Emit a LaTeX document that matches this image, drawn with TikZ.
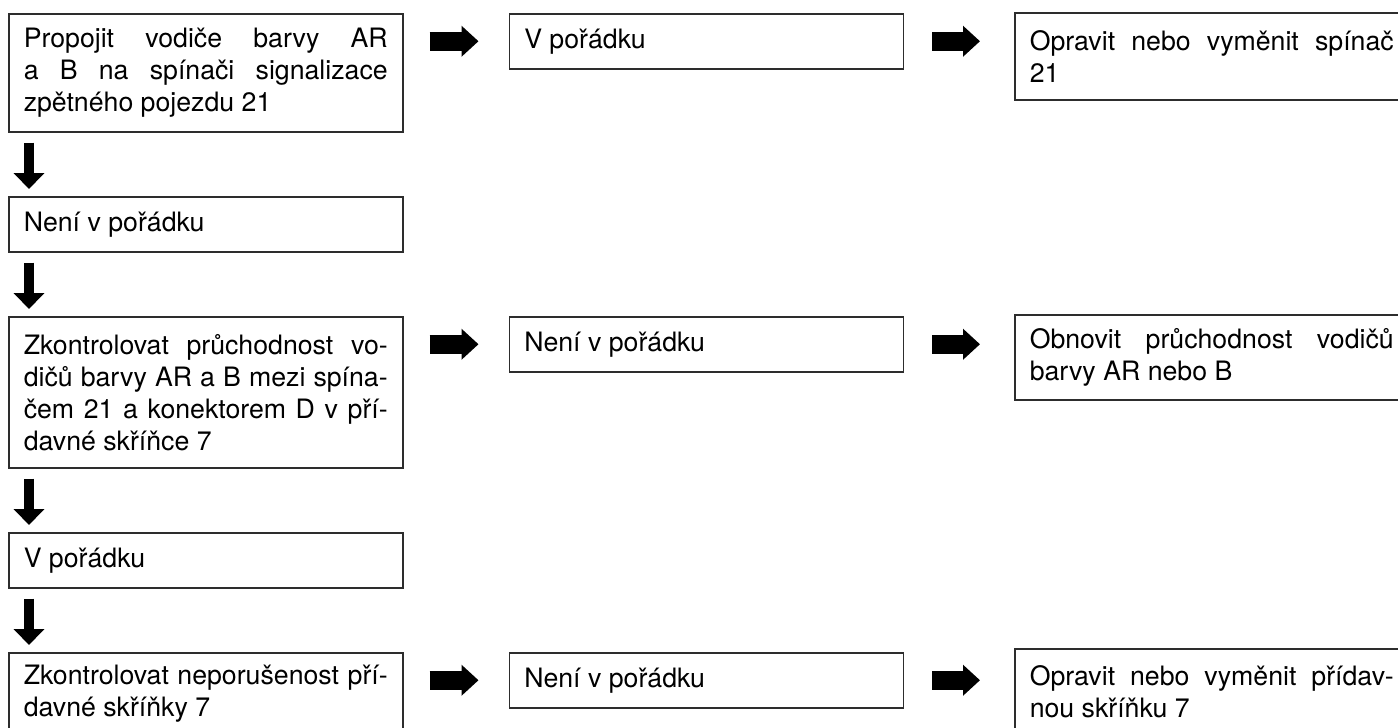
\documentclass[tikz,border=0pt]{standalone}
\usepackage{fontspec}
\setmainfont{TeX Gyre Heros}
\usetikzlibrary{arrows.meta,positioning}
\definecolor{fledge}{RGB}{45,45,45}
\tolerance=9999
\newcommand\flfont{\fontsize{13.35pt}{16pt}\selectfont}
\tikzset{
  flbox/.style={
    draw=fledge, line width=0.75pt, anchor=north west,
    text width=182pt, inner xsep=7.5pt, inner ysep=2pt, minimum width=197pt,
    align=justify, font=\flfont
  },
  onerow/.style={flbox, minimum height=27.5pt},
  harr/.style={-{Triangle[length=8.5pt,width=15pt]}, line width=9.5pt},
  varr/.style={-{Triangle[length=8pt,width=15pt]}, line width=5pt}
}
\begin{document}
\begin{tikzpicture}[node distance=31.75pt and 52.5pt]
  \useasboundingbox (0,0) rectangle (699pt,-364pt);
  % left column
  \node[flbox, minimum height=59pt] (bridge) at (4pt,-6.5pt)
    {Propojit vodiče barvy AR\linebreak a B na spínači signalizace\linebreak zpětného pojezdu 21};
  \node[onerow, below=of bridge] (bad1) {Není v pořádku};
  \node[flbox, minimum height=75.5pt, below=of bad1] (cont)
    {Zkontrolovat průchodnost vo-\linebreak dičů barvy AR a B mezi spína-\linebreak čem 21 a konektorem D v pří-\linebreak davné skříňce 7};
  \node[onerow, below=of cont] (good2) {V pořádku};
  \node[flbox, minimum height=40.5pt, below=of good2] (housing)
    {Zkontrolovat neporušenost pří-\linebreak davné skříňky 7};
  % middle column
  \node[onerow, right=of bridge.north east, anchor=north west] (ok1) {V pořádku};
  \node[onerow, right=of cont.north east, anchor=north west] (bad2) {Není v pořádku};
  \node[onerow, right=of housing.north east, anchor=north west] (bad3) {Není v pořádku};
  % right column
  \node[flbox, minimum height=43.5pt, right=55pt of ok1.north east, anchor=north west, yshift=0.5pt] (swfix)
    {Opravit nebo vyměnit spínač\linebreak 21};
  \node[flbox, minimum height=42.5pt, right=55pt of bad2.north east, anchor=north west, yshift=1pt] (wirefix)
    {Obnovit průchodnost vodičů\linebreak barvy AR nebo B};
  \node[flbox, minimum height=42.5pt, right=55pt of bad3.north east, anchor=north west, yshift=2pt] (boxfix)
    {Opravit nebo vyměnit přídav-\linebreak nou skříňku 7};
  % down arrows
  \draw[varr, shorten <=5pt, shorten >=3.5pt] ([xshift=10.5pt]bridge.south west) -- ([xshift=10.5pt]bad1.north west);
  \draw[varr, shorten <=5pt, shorten >=3.5pt] ([xshift=10.5pt]bad1.south west) -- ([xshift=10.5pt]cont.north west);
  \draw[varr, shorten <=5pt, shorten >=3.5pt] ([xshift=10.5pt]cont.south west) -- ([xshift=10.5pt]good2.north west);
  \draw[varr, shorten <=5pt, shorten >=3.5pt] ([xshift=10.5pt]good2.south west) -- ([xshift=10.5pt]housing.north west);
  % side arrows
  \draw[harr, shorten <=13pt, shorten >=15pt] (bridge.east |- ok1.west) -- (ok1.west);
  \draw[harr, shorten <=13pt, shorten >=15pt] (cont.east |- bad2.west) -- (bad2.west);
  \draw[harr, shorten <=13pt, shorten >=15pt] (housing.east |- bad3.west) -- (bad3.west);
  \draw[harr, shorten <=14pt, shorten >=17pt] (ok1.east) -- (swfix.west |- ok1.east);
  \draw[harr, shorten <=14pt, shorten >=17pt] (bad2.east) -- (wirefix.west |- bad2.east);
  \draw[harr, shorten <=14pt, shorten >=17pt] (bad3.east) -- (boxfix.west |- bad3.east);
\end{tikzpicture}
\end{document}
